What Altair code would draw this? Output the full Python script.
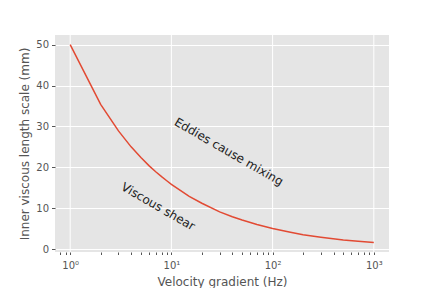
import altair as alt
import pandas as pd

# data
gradient = [1, 2, 3, 4, 5, 6, 7, 8, 9, 10, 15, 20, 30, 40, 50, 70, 100, 150, 200, 300, 500, 700, 1000]
length_mm = [50, 35.4, 28.9, 25.0, 22.4, 20.4, 18.9, 17.7, 16.7, 15.8, 12.9, 11.2, 9.1, 7.9, 7.1, 6.0,
             5.0, 4.1, 3.5, 2.9, 2.2, 1.9, 1.6]
major_ticks = [1, 10, 100, 1000]
minor_ticks = [0.8, 0.9, 2, 3, 4, 5, 6, 7, 8, 9, 20, 30, 40, 50, 60, 70, 80, 90,
               200, 300, 400, 500, 600, 700, 800, 900]
notes = ["Eddies cause mixing", "Viscous shear"]
note_x = [37, 7.4]
note_y = [23.8, 10.4]

df = pd.DataFrame({"x": gradient, "y": length_mm})
grid_df = pd.DataFrame({"x": major_ticks})
note_df = pd.DataFrame({"x": note_x, "y": note_y, "t": notes})

xdom = [0.708, 1413]
ydom = [-0.73, 52.37]
font = "DejaVu Sans"

xscale = alt.Scale(type="log", domain=xdom, nice=False)
yscale = alt.Scale(domain=ydom, nice=False, zero=False)

all_ticks = sorted(major_ticks + minor_ticks)

grid = alt.Chart(grid_df).mark_rule(color="white", strokeWidth=1).encode(
    x=alt.X("x:Q", scale=xscale,
            axis=alt.Axis(values=all_ticks, grid=False, title="Velocity gradient (Hz)",
                          labelExpr="datum.value == 1 ? '10⁰' : datum.value == 10 ? '10¹' : datum.value == 100 ? '10²' : datum.value == 1000 ? '10³' : ''",
                          tickColor="#555555", tickSize=2.5, labelColor="#555555", labelFont=font,
                          labelFontSize=10, titleFont=font, titleFontSize=12, titleColor="#555555",
                          titleFontWeight="normal", domain=False, labelPadding=6, titlePadding=6)),
)

line = alt.Chart(df).mark_line(color="#E24A33", strokeWidth=1.5).encode(
    x=alt.X("x:Q", scale=xscale),
    y=alt.Y("y:Q", scale=yscale,
            axis=alt.Axis(values=[0, 10, 20, 30, 40, 50], grid=True, gridColor="white",
                          gridWidth=1, gridOpacity=1, title="Inner viscous length scale (mm)",
                          tickColor="#555555", tickSize=3.5, labelColor="#555555", labelFont=font,
                          labelFontSize=10, titleFont=font, titleFontSize=12, titleColor="#555555",
                          titleFontWeight="normal", domain=False, labelPadding=3, titlePadding=4)),
)

text = alt.Chart(note_df).mark_text(font=font, fontSize=12, angle=30, color="#222222",
                                    align="center", baseline="middle").encode(
    x=alt.X("x:Q", scale=xscale),
    y=alt.Y("y:Q", scale=yscale),
    text="t:N",
)

chart = alt.layer(grid, line, text).properties(
    width=334, height=217,
    autosize=alt.AutoSizeParams(type="none"),
    padding={"left": 55, "top": 35, "right": 43, "bottom": 36},
    background="white",
).configure_view(fill="#E5E5E5", stroke=None)

chart.save("out.html", embed_options={"renderer": "svg", "actions": False})
